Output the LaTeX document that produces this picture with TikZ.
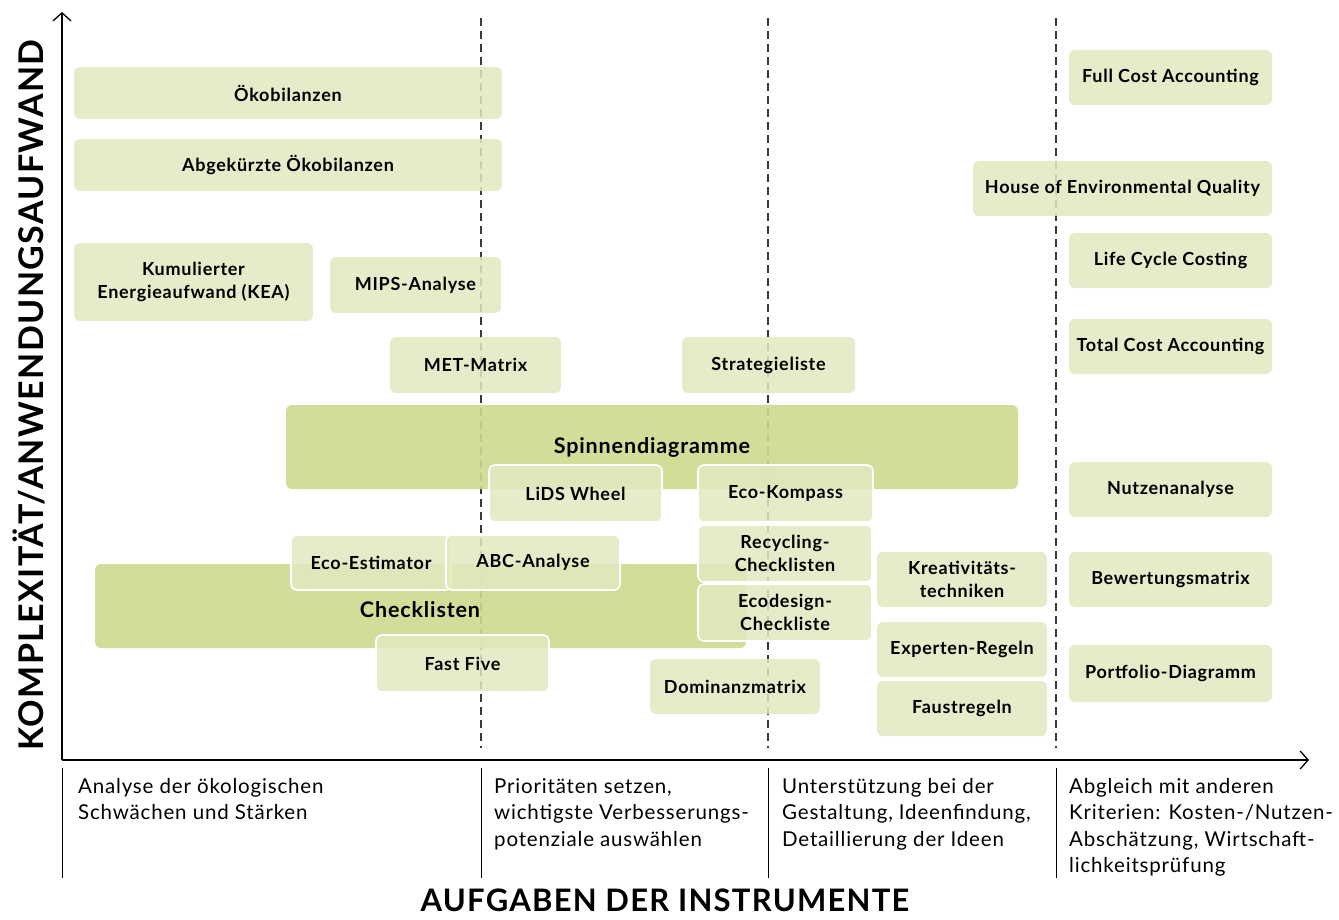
\documentclass[tikz,border=0pt]{standalone}
\usepackage{fontspec}
\setmainfont{Lato}[LetterSpace=4]
\usetikzlibrary{arrows.meta}
\definecolor{boxlight}{HTML}{E2E9BF}
\definecolor{boxdark}{HTML}{CCD98E}
\definecolor{dashgray}{HTML}{3A3A3A}
\tikzset{
  lbl/.style={font=\fontsize{18}{23}\selectfont\bfseries, align=center},
  lightbox/.style={lbl, fill=boxlight, fill opacity=0.85, text opacity=1,
    rounded corners=6pt, inner sep=0pt},
  ringbox/.style={lightbox, draw=white, line width=1.6pt},
  darkbox/.style={fill=boxdark, fill opacity=0.9, text opacity=1,
    rounded corners=6pt, inner sep=0pt,
    font=\fontsize{21.5}{25}\selectfont\bfseries},
  sepline/.style={dashgray, line width=1.2pt, dash pattern=on 8pt off 5pt},
  tickline/.style={black, line width=0.9pt},
  axisline/.style={black, line width=1.6pt,
    -{Straight Barb[length=8pt,width=18pt,line width=1.3pt]}},
  tasktext/.style={anchor=north west, inner sep=0pt, align=left,
    font=\fontsize{20.5}{26.5}\selectfont},
}
% box from corner (x1,y1) to (x2,y2)
\newcommand{\tbox}[7]{%
  \node[#7, minimum width={(#4-#2)*1pt}, minimum height={(#5-#3)*1pt}]
    (#1) at ({(#2+#4)/2},{(#3+#5)/2}) {#6};}
\begin{document}
\begin{tikzpicture}[x=1pt,y=-1pt]
\useasboundingbox (0,0) rectangle (1339,920);

% column separators
\draw[sepline] (481,18) -- (481,748);
\draw[sepline] (768,18) -- (768,748);
\draw[sepline] (1056,18) -- (1056,748);

% wide group boxes
\tbox{spinnen}{286}{405}{1018}{489}{Spinnendiagramme}{darkbox}
\tbox{check}{95}{564}{746}{648}{}{darkbox}
\node[font=\fontsize{21.5}{25}\selectfont\bfseries] (checklbl) at (420,610) {Checklisten};

% analysis column
\tbox{oeko}{74}{67}{502}{119}{Ökobilanzen}{lightbox}
\tbox{abgoeko}{74}{139}{502}{191}{Abgekürzte Ökobilanzen}{lightbox}
\tbox{kea}{74}{243}{313}{321}{Kumulierter\\Energieaufwand (KEA)}{lightbox}
\tbox{mips}{330}{257}{501}{313}{MIPS-Analyse}{lightbox}
\tbox{met}{390}{337}{561}{393}{MET-Matrix}{lightbox}
\tbox{strat}{682}{337}{855}{393}{Strategieliste}{lightbox}

% boxes lying on the group boxes
\tbox{lids}{489}{465}{662}{522}{LiDS Wheel}{ringbox}
\tbox{ecokomp}{698}{465}{873}{522}{Eco-Kompass}{ringbox}
\tbox{ecoest}{291}{535}{451}{590}{Eco-Estimator}{ringbox}
\tbox{abc}{446}{535}{620}{590}{ABC-Analyse}{ringbox}
\tbox{recyc}{698}{525}{872}{582}{Recycling-\\Checklisten}{ringbox}
\tbox{ecodes}{698}{584}{872}{641}{Ecodesign-\\Checkliste}{ringbox}
\tbox{fast}{376}{635}{549}{692}{Fast Five}{ringbox}

\tbox{domin}{650}{659}{820}{714}{Dominanzmatrix}{lightbox}
\tbox{kreativ}{877}{552}{1047}{607}{Kreativitäts-\\techniken}{lightbox}
\tbox{experten}{877}{622}{1047}{677}{Experten-Regeln}{lightbox}
\tbox{faust}{877}{681}{1047}{736}{Faustregeln}{lightbox}

% economic column
\tbox{fca}{1069}{50}{1272}{105}{Full Cost Accounting}{lightbox}
\tbox{heq}{973}{161}{1272}{216}{House of Environmental Quality}{lightbox}
\tbox{lcc}{1069}{233}{1272}{288}{Life Cycle Costing}{lightbox}
\tbox{tca}{1069}{319}{1272}{374}{Total Cost Accounting}{lightbox}
\tbox{nutzen}{1069}{462}{1272}{517}{Nutzenanalyse}{lightbox}
\tbox{bewert}{1069}{552}{1272}{607}{Bewertungsmatrix}{lightbox}
\tbox{portf}{1069}{645}{1272}{702}{Portfolio-Diagramm}{lightbox}

% axes
\coordinate (origin) at (62,760);
\coordinate (ytip) at (62,12);
\coordinate (xtip) at (1309,760);
\draw[axisline] (origin) -- (ytip);
\draw[axisline] (origin) -- (xtip);

% task column dividers
\foreach \xx/\nm in {62/ta, 481/tb, 768/tc, 1056/td}{
  \coordinate (\nm top) at (\xx,768);
  \coordinate (\nm bot) at (\xx,878);
  \draw[tickline] (\nm top) -- (\nm bot);
}

% task descriptions
\node[tasktext] (taska) at (78,778) {Analyse der ökologischen\\Schwächen und Stärken};
\node[tasktext] (taskb) at (494,778) {Prioritäten setzen,\\wichtigste Verbesserungs-\\potenziale auswählen};
\node[tasktext] (taskc) at (782,778) {Unterstützung bei der\\Gestaltung, Ideenfindung,\\Detaillierung der Ideen};
\node[tasktext] (taskd) at (1069,778) {Abgleich mit anderen\\Kriterien: Kosten-/Nutzen-\\Abschätzung, Wirtschaft-\\lichkeitsprüfung};

% axis titles
\node[anchor=base, inner sep=0pt, font=\fontsize{31}{35}\selectfont\bfseries] (xtitle) at (665,911) {AUFGABEN DER INSTRUMENTE};
\node[rotate=90, font=\fontsize{34}{38}\selectfont\bfseries] (ytitle) at (29,395) {KOMPLEXITÄT/ANWENDUNGSAUFWAND};
\end{tikzpicture}
\end{document}
